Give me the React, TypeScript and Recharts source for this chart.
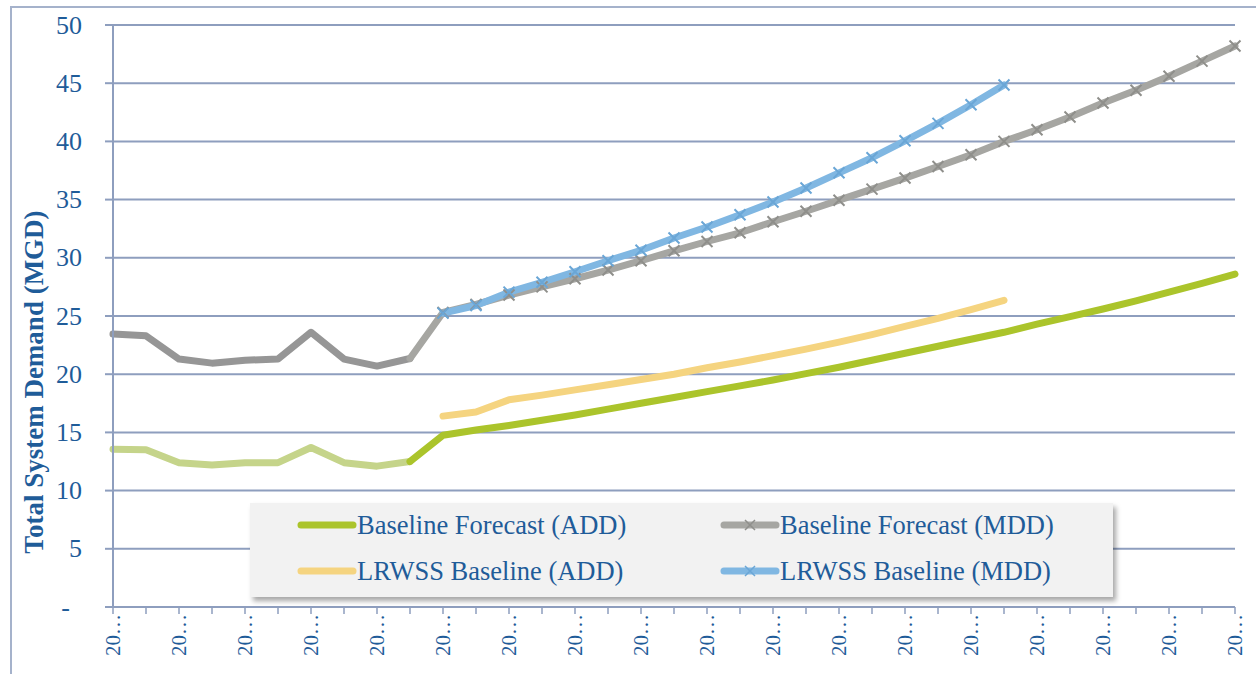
import { LineChart, Line, XAxis, YAxis, CartesianGrid, Legend } from "recharts";

const years = [
  2000, 2001, 2002, 2003, 2004, 2005, 2006, 2007, 2008, 2009,
  2010, 2011, 2012, 2013, 2014, 2015, 2016, 2017, 2018, 2019,
  2020, 2021, 2022, 2023, 2024, 2025, 2026, 2027, 2028, 2029,
  2030, 2031, 2032, 2033, 2034,
];

// recorded demand, 2000-2009
const histAdd = [13.55, 13.5, 12.4, 12.2, 12.4, 12.4, 13.7, 12.4, 12.1, 12.5];
const histMdd = [23.45, 23.3, 21.3, 20.95, 21.2, 21.3, 23.6, 21.3, 20.7, 21.35];

// baseline forecast, starting from the last recorded year (2009-2034)
const baseAdd = [
  12.5, 14.75, 15.2, 15.6, 16.05, 16.5, 17.0, 17.5, 18.0, 18.5, 19.0, 19.5, 20.05,
  20.6, 21.2, 21.8, 22.4, 23.0, 23.6, 24.3, 24.95, 25.6, 26.3, 27.05, 27.8, 28.6,
];
const baseMdd = [
  21.35, 25.3, 26.0, 26.8, 27.5, 28.2, 28.95, 29.75, 30.6, 31.4, 32.15, 33.1, 34.0,
  34.95, 35.9, 36.85, 37.85, 38.85, 40.0, 41.0, 42.1, 43.3, 44.4, 45.6, 46.9, 48.2,
];

// LRWSS baseline, 2010-2027
const lrwssAdd = [
  16.4, 16.75, 17.8, 18.2, 18.65, 19.1, 19.55, 20.0, 20.55, 21.05, 21.6, 22.15,
  22.75, 23.4, 24.1, 24.8, 25.55, 26.35,
];
const lrwssMdd = [
  25.25, 25.9, 27.05, 27.9, 28.8, 29.75, 30.65, 31.7, 32.65, 33.7, 34.8, 36.0,
  37.3, 38.6, 40.05, 41.55, 43.15, 44.85,
];

const yTicks = [0, 5, 10, 15, 20, 25, 30, 35, 40, 45, 50];

const BLUE_TEXT = "#1F5C99";
const GRID = "#8E9EBE";
const FONT = "'Liberation Serif', 'Times New Roman', serif";

const C = {
  histAdd: "#C5D48A",
  histMdd: "#969696",
  baseAdd: "#ABC42B",
  baseMdd: "#A6A6A2",
  lrwssAdd: "#F5D480",
  lrwssMdd: "#80B7E2",
};

const data = years.map((year, i) => ({
  year,
  histAdd: i < 10 ? histAdd[i] : null,
  histMdd: i < 10 ? histMdd[i] : null,
  baseAdd: i >= 9 ? baseAdd[i - 9] : null,
  baseMdd: i >= 9 ? baseMdd[i - 9] : null,
  lrwssAdd: i >= 10 && i < 10 + lrwssAdd.length ? lrwssAdd[i - 10] : null,
  lrwssMdd: i >= 10 && i < 10 + lrwssMdd.length ? lrwssMdd[i - 10] : null,
}));

const legendItems = [
  { label: "Baseline Forecast (ADD)", color: C.baseAdd, cross: false },
  { label: "Baseline Forecast (MDD)", color: C.baseMdd, cross: true },
  { label: "LRWSS Baseline (ADD)", color: C.lrwssAdd, cross: false },
  { label: "LRWSS Baseline (MDD)", color: C.lrwssMdd, cross: true },
];

// x-shaped marker, left off the joint with the recorded years
const crossDot = (color: string) => (props: any) => {
  const { cx, cy, index } = props;
  if (index < 10 || cx == null || cy == null) return <g key={`d-${index}`} />;
  const s = 5.5;
  return (
    <path
      key={`d-${index}`}
      d={`M${cx - s},${cy - s}L${cx + s},${cy + s}M${cx - s},${cy + s}L${cx + s},${cy - s}`}
      stroke={color}
      strokeWidth={2}
      fill="none"
    />
  );
};

const YTick = (props: any) => {
  const { x, y, payload } = props;
  const zero = payload.value === 0;
  return (
    <text
      x={zero ? x - 12 : x}
      y={y}
      textAnchor="end"
      dominantBaseline="central"
      fill={BLUE_TEXT}
      fontSize={26}
      fontFamily={FONT}
    >
      {zero ? "-" : payload.value}
    </text>
  );
};

const XTick = (props: any) => {
  const { x, y, payload, index } = props;
  if (index % 2 !== 0) return <g />;
  const label = String(payload.value).slice(0, 2) + "…";
  return (
    <text
      x={x}
      y={y}
      transform={`rotate(-90, ${x}, ${y})`}
      textAnchor="end"
      dominantBaseline="central"
      fill={BLUE_TEXT}
      fontSize={21}
      fontFamily={FONT}
    >
      {label}
    </text>
  );
};

const LegendBox = () => (
  <div
    style={{
      position: "relative",
      width: 863,
      height: 94,
      background: "#F2F2F2",
      boxShadow: "3px 4px 5px rgba(0,0,0,0.35)",
      fontFamily: FONT,
      fontSize: 26.5,
      color: BLUE_TEXT,
    }}
  >
    {legendItems.map((it, i) => {
      const left = i % 2 === 0 ? 47 : 470;
      const top = i < 2 ? 22 : 68;
      return (
        <div key={it.label} style={{ position: "absolute", left, top: top - 16, height: 32, display: "flex", alignItems: "center" }}>
          <svg width={60} height={32}>
            <line x1={4} y1={16} x2={56} y2={16} stroke={it.color} strokeWidth={7} strokeLinecap="round" />
            {it.cross && (
              <path d="M25,11L35,21M25,21L35,11" stroke={it.color === C.baseMdd ? "#8f8f8b" : "#6aa6d6"} strokeWidth={1.5} />
            )}
          </svg>
          <span style={{ whiteSpace: "nowrap", lineHeight: "32px" }}>{it.label}</span>
        </div>
      );
    })}
  </div>
);

export default function App() {
  const lineProps = {
    type: "linear" as const,
    strokeWidth: 7,
    strokeLinecap: "round" as const,
    strokeLinejoin: "round" as const,
    isAnimationActive: false,
    connectNulls: false,
  };
  return (
    <div style={{ position: "absolute", left: 0, top: 0, width: 1256, height: 674, background: "#fff", overflow: "hidden" }}>
      <div
        style={{
          position: "absolute",
          left: 10,
          top: 6,
          width: 1260,
          height: 680,
          borderLeft: "2px solid #A5B2CB",
          borderTop: "2px solid #A5B2CB",
        }}
      />
      <div style={{ position: "absolute", left: 0, top: 0 }}>
        <LineChart width={1256} height={674} data={data} margin={{ top: 25, right: 21, bottom: 0, left: 0 }}>
          <CartesianGrid horizontal vertical={false} stroke={GRID} strokeWidth={2} />
          <XAxis
            dataKey="year"
            interval={0}
            height={67}
            tickSize={7}
            tickMargin={0}
            axisLine={{ stroke: GRID, strokeWidth: 2 }}
            tickLine={{ stroke: GRID, strokeWidth: 1.5 }}
            tick={<XTick />}
          />
          <YAxis
            width={113}
            domain={[0, 50]}
            ticks={yTicks}
            interval={0}
            tickSize={8}
            tickMargin={23}
            axisLine={{ stroke: GRID, strokeWidth: 2 }}
            tickLine={{ stroke: GRID, strokeWidth: 2 }}
            tick={<YTick />}
          />
          <Legend
            layout="vertical"
            align="center"
            verticalAlign="middle"
            content={() => <LegendBox />}
            wrapperStyle={{ left: 250, top: 503, width: 863, height: 94 }}
          />
          <Line {...lineProps} dataKey="histAdd" stroke={C.histAdd} dot={false} legendType="none" />
          <Line {...lineProps} dataKey="histMdd" stroke={C.histMdd} dot={false} legendType="none" />
          <Line {...lineProps} dataKey="baseAdd" stroke={C.baseAdd} dot={false} />
          <Line {...lineProps} dataKey="baseMdd" stroke={C.baseMdd} dot={crossDot("#8f8f8b")} />
          <Line {...lineProps} dataKey="lrwssAdd" stroke={C.lrwssAdd} dot={false} />
          <Line {...lineProps} dataKey="lrwssMdd" stroke={C.lrwssMdd} dot={crossDot("#6aa6d6")} />
        </LineChart>
      </div>
      <svg style={{ position: "absolute", left: 0, top: 0 }} width={80} height={674}>
        <text
          x={34}
          y={382}
          transform="rotate(-90, 34, 382)"
          textAnchor="middle"
          dominantBaseline="central"
          fill={BLUE_TEXT}
          fontSize={27}
          fontWeight="bold"
          fontFamily={FONT}
        >
          Total System Demand (MGD)
        </text>
      </svg>
    </div>
  );
}
